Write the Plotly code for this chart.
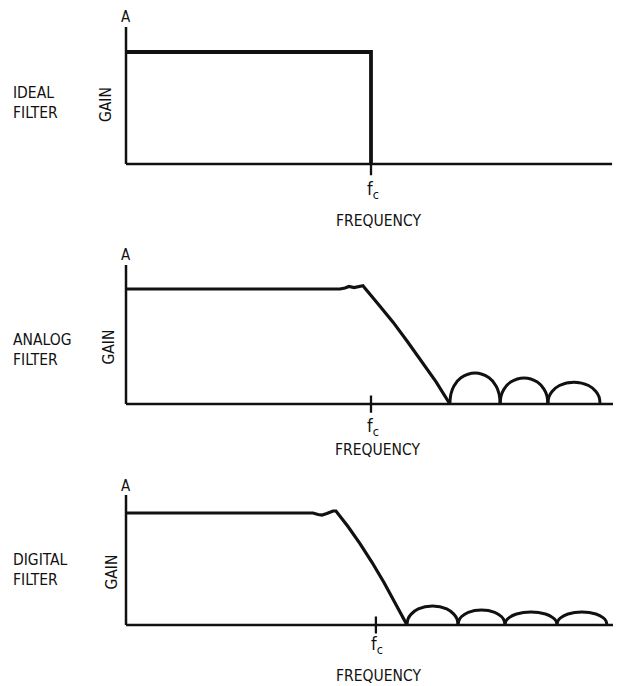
import plotly.graph_objects as go

# The page body has an 8 px default margin, so the figure is made 8 px smaller
# than the window and every reference pixel position is shifted by that offset.
REF_W, REF_H = 621, 686
OFF = 8
W, H = REF_W - OFF, REF_H - OFF

# ---------------- data (frequency in units of fc, gain in units of A-plateau) ----------------
panel_titles = ["IDEAL<br>FILTER", "ANALOG<br>FILTER", "DIGITAL<br>FILTER"]
y_title = "GAIN"
x_title = "FREQUENCY"
top_label = "A"
fc_label = "f<sub>c</sub>"

fc_pos = [1.0, 1.0, 1.02]              # cutoff marker position per panel
gain_axis_top = [1.223, 1.209, 1.161]  # top of the gain axis per panel
freq_axis_end = [1.984, 2.008, 2.020]  # end of frequency axis per panel

ideal_f = [0.0, 1.0, 1.0]
ideal_g = [1.0, 1.0, 0.0]

analog_f = [0.0, 0.873, 0.894, 0.910, 0.931, 0.947, 0.967, 1.029, 1.090, 1.147, 1.204, 1.265, 1.322]
analog_g = [1.0, 1.0, 1.009, 1.022, 1.013, 1.019, 1.028, 0.870, 0.712, 0.548, 0.380, 0.195, 0.0]

analog_lobe_f = [1.322, 1.326, 1.338, 1.367, 1.425, 1.482, 1.511, 1.523, 1.527, None,
                 1.527, 1.531, 1.543, 1.570, 1.625, 1.679, 1.706, 1.718, 1.722, None,
                 1.722, 1.726, 1.739, 1.769, 1.829, 1.888, 1.918, 1.931, 1.935]
analog_lobe_g = [0.0, 0.085, 0.155, 0.228, 0.270, 0.228, 0.155, 0.085, 0.0, None,
                 0.0, 0.071, 0.129, 0.191, 0.226, 0.191, 0.129, 0.071, 0.0, None,
                 0.0, 0.060, 0.109, 0.161, 0.190, 0.161, 0.109, 0.060, 0.0]

digital_f = [0.0, 0.763, 0.784, 0.800, 0.820, 0.845, 0.857, 0.906, 0.955, 1.004, 1.053, 1.102, 1.147]
digital_g = [1.0, 1.0, 0.987, 0.982, 0.995, 1.018, 1.018, 0.879, 0.726, 0.560, 0.380, 0.188, 0.0]

digital_lobe_f = [1.147, 1.151, 1.164, 1.193, 1.251, 1.309, 1.338, 1.351, 1.355, None,
                  1.355, 1.359, 1.370, 1.397, 1.451, 1.505, 1.532, 1.543, 1.547, None,
                  1.547, 1.551, 1.564, 1.594, 1.653, 1.712, 1.742, 1.755, 1.759, None,
                  1.759, 1.763, 1.775, 1.804, 1.861, 1.918, 1.947, 1.959, 1.963]
digital_lobe_g = [0.0, 0.053, 0.097, 0.144, 0.170, 0.144, 0.097, 0.053, 0.0, None,
                  0.0, 0.042, 0.076, 0.113, 0.134, 0.113, 0.076, 0.042, 0.0, None,
                  0.0, 0.037, 0.066, 0.098, 0.116, 0.098, 0.066, 0.037, 0.0, None,
                  0.0, 0.037, 0.066, 0.098, 0.116, 0.098, 0.066, 0.037, 0.0]

# ---------------- layout geometry (reference pixels) ----------------
X0_PX = 126          # pixel of frequency 0
X_UNIT = 245         # pixels per fc unit
panel_base_px = [164, 404, 625]   # baseline pixel (gain 0)
panel_unit_px = [112, 115, 112]   # pixels per gain unit
YLO, YHI = -0.3, 1.3
XLO = -0.1
XHI = (REF_W - X0_PX) / X_UNIT

FONT = "Liberation Sans Narrow, Arial Narrow, DejaVu Sans Condensed, Roboto, sans-serif"
FS = 15.5
BLACK = "#111111"


def px(xp):
    return (xp - OFF) / W


def py(yp):
    return 1 - (yp - OFF) / H


fig = go.Figure()

layout = dict(
    width=W, height=H,
    margin=dict(l=0, r=0, t=0, b=0),
    paper_bgcolor="white", plot_bgcolor="white",
    showlegend=False,
    font=dict(family=FONT, size=FS, color=BLACK),
)

for i in range(3):
    n = "" if i == 0 else str(i + 1)
    base, unit = panel_base_px[i], panel_unit_px[i]
    ax_common = dict(showgrid=False, zeroline=False, showline=False,
                     showticklabels=False, ticks="", fixedrange=True)
    layout["xaxis" + n] = dict(ax_common, domain=[px(X0_PX + XLO * X_UNIT), 1.0],
                               range=[XLO, XHI], anchor="y" + n)
    layout["yaxis" + n] = dict(ax_common,
                               domain=[py(base - YLO * unit), py(base - YHI * unit)],
                               range=[YLO, YHI], anchor="x" + n)

fig.update_layout(**layout)


def line(x, y, i, w, shape="linear"):
    n = "" if i == 0 else str(i + 1)
    fig.add_trace(go.Scatter(x=x, y=y, mode="lines", xaxis="x" + n, yaxis="y" + n,
                             line=dict(color=BLACK, width=w, shape=shape),
                             hoverinfo="skip", connectgaps=False))


# axes (gain axis and frequency baseline) + fc tick
for i in range(3):
    line([0, 0], [0, gain_axis_top[i]], i, 2.5)
    line([0, freq_axis_end[i]], [0, 0], i, 2.7)
    if i == 0:
        line([fc_pos[i], fc_pos[i]], [0, -0.1], i, 2.3)
    else:
        line([fc_pos[i], fc_pos[i]], [-0.075, 0.075], i, 2.3)

# responses
line(ideal_f, ideal_g, 0, 3.8)
line(analog_f, analog_g, 1, 3.2)
line(analog_lobe_f, analog_lobe_g, 1, 3.0, "spline")
line(digital_f, digital_g, 2, 3.2)
line(digital_lobe_f, digital_lobe_g, 2, 3.0, "spline")

# ---------------- text (reference pixel positions) ----------------
title_y = [103, 350, 570]
gain_xy = [(106, 105), (108.5, 347), (111.5, 572)]
a_y = [17, 255, 486]
fc_lab_xy = [(373, 190), (373, 427), (377, 645)]
freq_xy = [(378, 221), (377, 450), (378, None)]

ann = []
for i in range(3):
    ann.append(dict(text=panel_titles[i], x=px(11), y=py(title_y[i]), xref="paper", yref="paper",
                    xanchor="left", yanchor="middle", align="left", showarrow=False))
    ann.append(dict(text=y_title, x=px(gain_xy[i][0]), y=py(gain_xy[i][1]), xref="paper", yref="paper",
                    xanchor="center", yanchor="middle", textangle=-90, showarrow=False))
    ann.append(dict(text=top_label, x=px(X0_PX), y=py(a_y[i]), xref="paper", yref="paper",
                    xanchor="center", yanchor="middle", showarrow=False, font=dict(size=15)))
    ann.append(dict(text=fc_label, x=px(fc_lab_xy[i][0]), y=py(fc_lab_xy[i][1]), xref="paper", yref="paper",
                    xanchor="center", yanchor="middle", showarrow=False, font=dict(size=18)))
    if freq_xy[i][1] is None:
        ann.append(dict(text=x_title, x=px(freq_xy[i][0]), y=0, xref="paper", yref="paper",
                        xanchor="center", yanchor="bottom", borderpad=0, showarrow=False))
    else:
        ann.append(dict(text=x_title, x=px(freq_xy[i][0]), y=py(freq_xy[i][1]), xref="paper", yref="paper",
                        xanchor="center", yanchor="middle", showarrow=False))
# frequency axis symbol at right edge of first panel
ann.append(dict(text="f", x=1.0, y=py(171), xref="paper", yref="paper",
                xanchor="right", yanchor="middle", borderpad=0, showarrow=False))

fig.update_layout(annotations=ann)

fig.write_html("out.html")
